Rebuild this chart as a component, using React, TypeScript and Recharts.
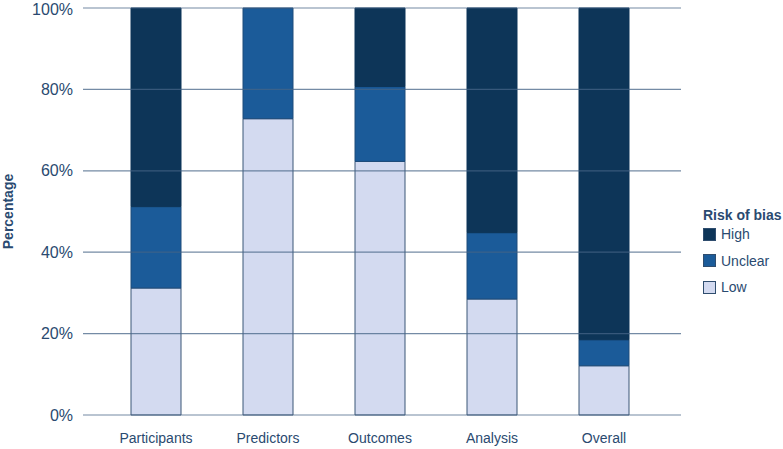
import { BarChart, Bar, XAxis, YAxis, ReferenceLine } from 'recharts';

const categories = ['Participants', 'Predictors', 'Outcomes', 'Analysis', 'Overall'];
const lowValues = [31.2, 72.8, 62.3, 28.5, 12.1];
const unclearValues = [20.0, 27.2, 18.4, 16.3, 6.4];
const highValues = [48.8, 0, 19.3, 55.2, 81.5];
const yTicks = [0, 20, 40, 60, 80, 100];

const colors = { high: '#0d3558', unclear: '#1b5b99', low: '#d3daf0' };
const textColor = '#2a4a70';
const gridColor = 'rgba(70,100,135,0.75)';
const font = '"Liberation Sans", Arial, sans-serif';

const data = categories.map((name, i) => ({
    name,
    low: lowValues[i],
    unclear: unclearValues[i],
    high: highValues[i],
}));

const legendItems = [
    { key: 'high', label: 'High' },
    { key: 'unclear', label: 'Unclear' },
    { key: 'low', label: 'Low' },
];

function YLabel({ viewBox }: any) {
    const cy = viewBox.y + viewBox.height / 2;
    return (
        <text
            x={13}
            y={cy}
            transform={`rotate(-90, 13, ${cy})`}
            textAnchor="middle"
            fill={textColor}
            fontSize={14}
            fontWeight="bold"
            fontFamily={font}
        >
            Percentage
        </text>
    );
}

export default function App() {
    return (
        <div style={{ position: 'absolute', left: 0, top: 0, width: 783, height: 449, background: '#fff', fontFamily: font }}>
            <BarChart width={783} height={449} data={data} margin={{ top: 8, right: 102, left: 0, bottom: 0 }}>
                <XAxis
                    dataKey="name"
                    axisLine={false}
                    tickLine={false}
                    padding={{ left: 17, right: 21 }}
                    tick={{ fill: textColor, fontSize: 14, fontFamily: font }}
                    tickMargin={12}
                    height={34}
                />
                <YAxis
                    domain={[0, 100]}
                    ticks={yTicks}
                    tickFormatter={(v) => `${v}%`}
                    axisLine={false}
                    tickLine={false}
                    tick={{ fill: textColor, fontSize: 16, fontFamily: font }}
                    tickMargin={4}
                    width={83}
                    label={<YLabel />}
                />
                <Bar dataKey="low" stackId="a" fill={colors.low} stroke="#3a5677" strokeWidth={1} barSize={50} isAnimationActive={false} />
                <Bar dataKey="unclear" stackId="a" fill={colors.unclear} stroke="#1f4c7a" strokeWidth={1} barSize={50} isAnimationActive={false} />
                <Bar dataKey="high" stackId="a" fill={colors.high} stroke="#0d3558" strokeWidth={1} barSize={50} isAnimationActive={false} />
                {yTicks.map((t) => (
                    <ReferenceLine key={t} y={t} stroke={gridColor} strokeWidth={1.2} />
                ))}
            </BarChart>
            <div style={{ position: 'absolute', left: 703, top: 207, color: textColor, fontSize: 14 }}>
                <div style={{ fontWeight: 'bold', marginBottom: -2 }}>Risk of bias</div>
                {legendItems.map((it) => (
                    <div key={it.key} style={{ display: 'flex', alignItems: 'center', height: 26.5 }}>
                        <span
                            style={{
                                display: 'inline-block',
                                width: 11,
                                height: 11,
                                marginRight: 5,
                                background: (colors as any)[it.key],
                                border: '1px solid #2f4d6e',
                            }}
                        />
                        <span>{it.label}</span>
                    </div>
                ))}
            </div>
        </div>
    );
}
